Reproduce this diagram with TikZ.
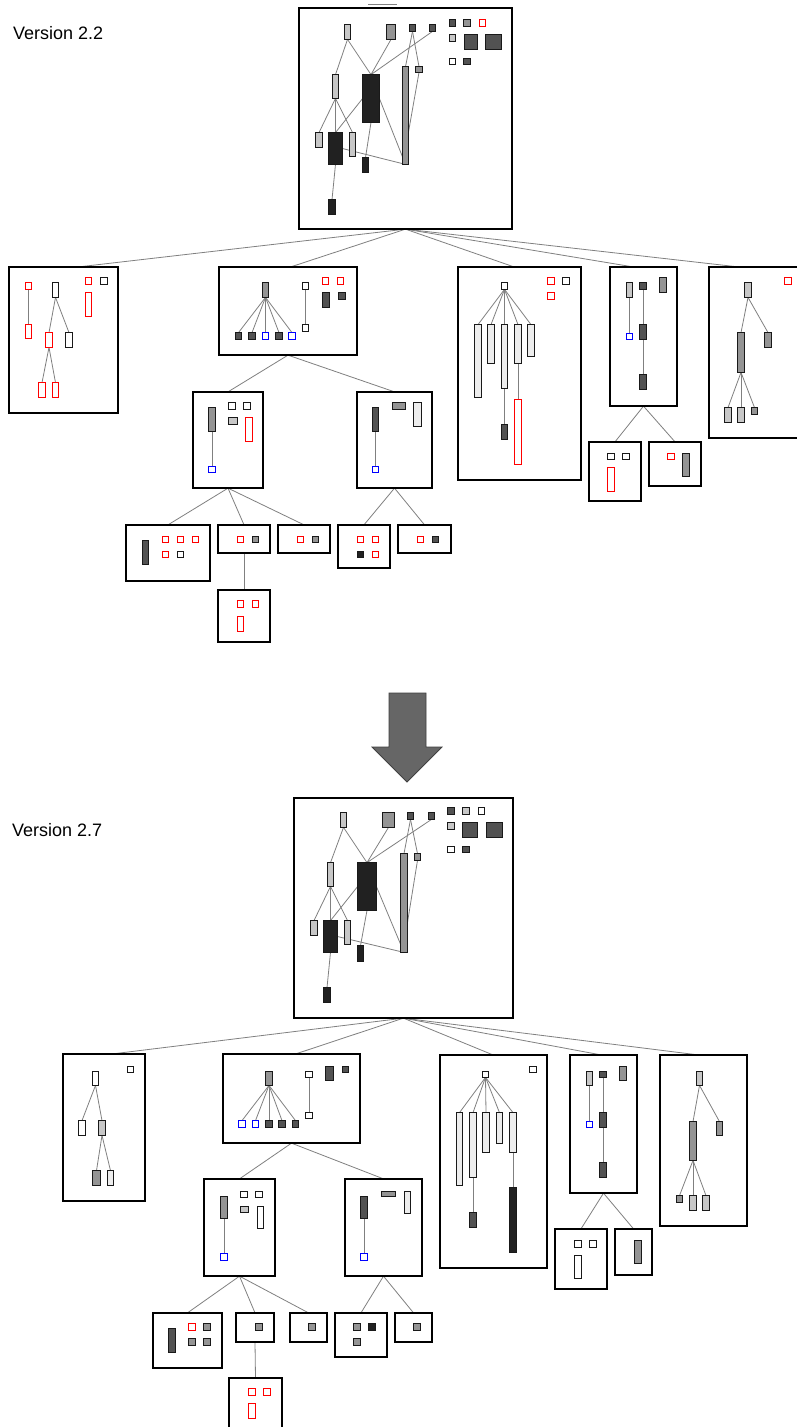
\documentclass[tikz,border=0pt]{standalone}
\usepackage{fontspec}
\setmainfont{Liberation Sans}
\pgfdeclarelayer{paper}
\pgfdeclarelayer{links}
\pgfsetlayers{paper,links,main}
\tikzset{
  panel/.style={draw=black, line width=1.7pt, inner sep=0pt, outer sep=0pt},
  cell/.style={draw=black!90, line width=1.2pt, inner sep=0pt, outer sep=0pt},
  cw/.style={cell, fill=white},
  cx/.style={cell, fill=black!7},
  cl/.style={cell, fill=black!22},
  cg/.style={cell, fill=black!42},
  cd/.style={cell, fill=black!68},
  ck/.style={cell, fill=black!87},
  cr/.style={cell, draw=red, fill=white},
  cb/.style={cell, draw=blue, fill=white},
  link/.style={draw=black!50, line width=0.8pt},
  label/.style={anchor=base west, inner sep=0pt, font=\fontsize{18}{20}\selectfont},
}
% \cellx{name}{style}{x1}{y1}{x2}{y2}: a small block given by its corners
\newcommand\cellx[6]{\node[#2, minimum width={(#5-#3-1.2)*1pt}, minimum height={(#6-#4-1.2)*1pt}] (#1) at ({(#3+#5)/2},{(#4+#6)/2}) {};}
% \panelx{name}{x1}{y1}{x2}{y2}: a package frame
\newcommand\panelx[5]{\node[panel, minimum width={(#4-#2-1.7)*1pt}, minimum height={(#5-#3-1.7)*1pt}] (#1) at ({(#2+#4)/2},{(#3+#5)/2}) {};}
\newcommand\lk[2]{\draw[link] (#1) -- (#2);}
\begin{document}
\begin{tikzpicture}[x=1pt, y=-1pt]
\begin{pgfonlayer}{paper}
\fill[white] (0,0) rectangle (796,1427);
\end{pgfonlayer}
\useasboundingbox (0,0) rectangle (796,1427);

\node[label] (v22) at (13,39.5) {Version 2.2};
\node[label] (v27) at (12,836) {Version 2.7};

% ---------------- version 2.2 ----------------
\panelx{pm}{298}{7}{513}{230}
\coordinate (stubL) at (368,4.5);
\coordinate (stubR) at (397,4.5);
\cellx{pA}{cl}{344}{24}{351}{40}
\cellx{pB}{cg}{386}{24}{396}{40}
\cellx{pC}{cd}{409}{24}{416}{32}
\cellx{pD}{cd}{429}{24}{436}{32}
\cellx{pT1}{cd}{449}{19}{456}{27}
\cellx{pT2}{cg}{463}{19}{471}{27}
\cellx{pT3}{cr}{479}{19}{486}{27}
\cellx{pT4}{cl}{449}{34}{456}{42}
\cellx{pT5}{cd}{464}{34}{478}{50}
\cellx{pT6}{cd}{485}{34}{502}{50}
\cellx{pT7}{cw}{449}{58}{456}{65}
\cellx{pT8}{cd}{463}{58}{471}{65}
\cellx{pE}{cg}{415}{66}{423}{73}
\cellx{pF}{cg}{402}{66}{409}{165}
\cellx{pG}{cl}{332}{74}{339}{99}
\cellx{pH}{ck}{362}{74}{380}{123}
\cellx{pI}{cl}{315}{132}{323}{148}
\cellx{pJ}{ck}{328}{132}{343}{165}
\cellx{pK}{cl}{349}{132}{356}{157}
\cellx{pL}{ck}{362}{157}{369}{173}
\cellx{pM}{ck}{328}{199}{336}{215}

\panelx{p1}{8}{266}{119}{414}
\cellx{p1a}{cr}{25}{282}{32}{290}
\cellx{p1b}{cr}{25}{324}{32}{339}
\cellx{p1c}{cw}{52}{282}{59}{298}
\cellx{p1d}{cr}{45}{332}{53}{348}
\cellx{p1e}{cw}{65}{332}{73}{348}
\cellx{p1f}{cr}{38}{382}{46}{398}
\cellx{p1g}{cr}{52}{382}{59}{398}
\cellx{p1h}{cr}{85}{277}{92}{285}
\cellx{p1i}{cw}{100}{277}{108}{285}
\cellx{p1j}{cr}{85}{292}{92}{317}

\panelx{p2}{218}{266}{358}{356}
\cellx{p2r}{cg}{262}{282}{269}{298}
\cellx{p2s1}{cd}{235}{332}{242}{340}
\cellx{p2s2}{cd}{248}{332}{256}{340}
\cellx{p2s3}{cb}{262}{332}{269}{340}
\cellx{p2s4}{cd}{275}{332}{283}{340}
\cellx{p2s5}{cb}{288}{332}{296}{340}
\cellx{p2q}{cw}{302}{282}{309}{290}
\cellx{p2t}{cw}{302}{324}{309}{332}
\cellx{p2u1}{cr}{322}{277}{329}{285}
\cellx{p2u2}{cr}{337}{277}{344}{285}
\cellx{p2v}{cd}{322}{292}{330}{308}
\cellx{p2w}{cd}{338}{292}{346}{300}

\panelx{p2a}{192}{391}{264}{489}
\cellx{p2ar}{cg}{208}{407}{216}{432}
\cellx{p2ab}{cb}{208}{466}{216}{473}
\cellx{p2ax}{cw}{228}{402}{236}{410}
\cellx{p2ay}{cw}{243}{402}{251}{410}
\cellx{p2az}{cl}{228}{417}{238}{425}
\cellx{p2aw}{cr}{245}{417}{253}{442}

\panelx{p2b}{356}{391}{433}{489}
\cellx{p2br}{cd}{372}{407}{379}{432}
\cellx{p2bb}{cb}{372}{466}{379}{473}
\cellx{p2bx}{cg}{392}{402}{406}{410}
\cellx{p2by}{cx}{413}{402}{422}{427}

\panelx{p2a1}{125}{524}{211}{582}
\cellx{p2a1r}{cd}{142}{540}{149}{565}
\cellx{p2a1s}{cr}{162}{536}{169}{543}
\cellx{p2a1t}{cr}{177}{536}{184}{543}
\cellx{p2a1u}{cr}{192}{536}{199}{543}
\cellx{p2a1v}{cr}{162}{551}{169}{558}
\cellx{p2a1w}{cw}{177}{551}{184}{558}

\panelx{p2a2}{217}{524}{271}{554}
\cellx{p2a2s}{cr}{237}{536}{244}{543}
\cellx{p2a2t}{cg}{252}{536}{259}{543}

\panelx{p2a2a}{217}{589}{271}{643}
\cellx{p2a2as}{cr}{237}{600}{244}{608}
\cellx{p2a2at}{cr}{252}{600}{259}{608}
\cellx{p2a2au}{cr}{237}{616}{244}{632}

\panelx{p2a3}{277}{524}{331}{554}
\cellx{p2a3s}{cr}{297}{536}{304}{543}
\cellx{p2a3t}{cg}{312}{536}{319}{543}

\panelx{p2b1}{337}{524}{391}{569}
\cellx{p2b1s}{cr}{357}{536}{364}{543}
\cellx{p2b1t}{cr}{372}{536}{379}{543}
\cellx{p2b1u}{ck}{357}{551}{364}{558}
\cellx{p2b1v}{cr}{372}{551}{379}{558}

\panelx{p2b2}{397}{524}{452}{554}
\cellx{p2b2s}{cr}{417}{536}{424}{543}
\cellx{p2b2t}{cd}{432}{536}{439}{543}

\panelx{p3}{457}{266}{582}{481}
\cellx{p3r}{cw}{501}{282}{508}{290}
\cellx{p3c1}{cx}{474}{324}{482}{398}
\cellx{p3c2}{cx}{487}{324}{495}{364}
\cellx{p3c3}{cx}{501}{324}{508}{389}
\cellx{p3c4}{cx}{514}{324}{522}{364}
\cellx{p3c5}{cx}{527}{324}{535}{357}
\cellx{p3d}{cd}{501}{424}{508}{440}
\cellx{p3e}{cr}{514}{399}{522}{465}
\cellx{p3f}{cr}{547}{277}{555}{285}
\cellx{p3g}{cw}{562}{277}{570}{285}
\cellx{p3h}{cr}{547}{292}{555}{300}

\panelx{p4}{609}{266}{678}{407}
\cellx{p4k}{cl}{626}{282}{633}{298}
\cellx{p4m}{cb}{626}{333}{633}{340}
\cellx{p4s}{cd}{639}{282}{647}{290}
\cellx{p4t}{cd}{639}{324}{647}{340}
\cellx{p4u}{cd}{639}{374}{647}{390}
\cellx{p4v}{cg}{659}{277}{667}{293}

\panelx{p4a}{588}{441}{642}{502}
\cellx{p4as}{cw}{607}{453}{615}{460}
\cellx{p4at}{cw}{622}{453}{630}{460}
\cellx{p4au}{cr}{607}{467}{615}{492}

\panelx{p4b}{648}{441}{702}{487}
\cellx{p4bs}{cr}{667}{453}{675}{460}
\cellx{p4bt}{cg}{682}{453}{690}{477}

\panelx{p5}{708}{266}{799}{439}
\cellx{p5r}{cr}{784}{277}{792}{285}
\cellx{p5a}{cl}{744}{282}{752}{298}
\cellx{p5b}{cg}{737}{332}{745}{373}
\cellx{p5c}{cg}{764}{332}{772}{348}
\cellx{p5d}{cl}{724}{407}{732}{423}
\cellx{p5e}{cl}{737}{407}{745}{423}
\cellx{p5f}{cg}{751}{407}{758}{415}

% ---------------- version 2.7 ----------------
\panelx{qm}{293}{797}{514}{1019}
\cellx{qA}{cl}{340}{812}{347}{828}
\cellx{qB}{cg}{382}{812}{395}{828}
\cellx{qC}{cd}{407}{812}{414}{820}
\cellx{qD}{cd}{428}{812}{435}{820}
\cellx{qT1}{cd}{447}{807}{455}{815}
\cellx{qT2}{cl}{462}{807}{470}{815}
\cellx{qT3}{cw}{478}{807}{485}{815}
\cellx{qT4}{cl}{447}{822}{455}{830}
\cellx{qT5}{cd}{462}{822}{478}{838}
\cellx{qT6}{cd}{486}{822}{503}{838}
\cellx{qT7}{cw}{447}{846}{455}{853}
\cellx{qT8}{cd}{462}{846}{470}{853}
\cellx{qE}{cg}{414}{853}{421}{861}
\cellx{qF}{cg}{400}{853}{408}{953}
\cellx{qG}{cl}{327}{862}{334}{887}
\cellx{qH}{ck}{357}{862}{377}{911}
\cellx{qI}{cl}{310}{920}{318}{936}
\cellx{qJ}{ck}{323}{920}{338}{953}
\cellx{qK}{cl}{344}{920}{351}{945}
\cellx{qL}{ck}{357}{945}{364}{962}
\cellx{qM}{ck}{323}{987}{331}{1003}

\panelx{q1}{62}{1053}{146}{1202}
\cellx{q1a}{cw}{92}{1071}{99}{1086}
\cellx{q1s}{cw}{127}{1066}{134}{1073}
\cellx{q1b}{cw}{78}{1120}{86}{1136}
\cellx{q1c}{cl}{98}{1120}{106}{1136}
\cellx{q1d}{cg}{92}{1170}{101}{1186}
\cellx{q1e}{cx}{107}{1170}{114}{1186}

\panelx{q2}{222}{1053}{361}{1144}
\cellx{q2r}{cg}{265}{1071}{273}{1086}
\cellx{q2s1}{cb}{238}{1120}{246}{1128}
\cellx{q2s2}{cb}{252}{1120}{259}{1128}
\cellx{q2s3}{cd}{265}{1120}{273}{1128}
\cellx{q2s4}{cd}{278}{1120}{286}{1128}
\cellx{q2s5}{cd}{292}{1120}{299}{1128}
\cellx{q2q}{cw}{305}{1071}{313}{1078}
\cellx{q2t}{cw}{305}{1112}{313}{1119}
\cellx{q2v}{cd}{325}{1066}{334}{1081}
\cellx{q2w}{cd}{342}{1066}{349}{1073}

\panelx{q2a}{203}{1178}{276}{1277}
\cellx{q2ar}{cg}{220}{1196}{228}{1219}
\cellx{q2ab}{cb}{220}{1253}{228}{1261}
\cellx{q2ax}{cw}{240}{1191}{248}{1198}
\cellx{q2ay}{cw}{255}{1191}{263}{1198}
\cellx{q2az}{cl}{240}{1206}{249}{1213}
\cellx{q2aw}{cw}{257}{1206}{264}{1229}

\panelx{q2b}{344}{1178}{423}{1277}
\cellx{q2br}{cd}{360}{1196}{368}{1219}
\cellx{q2bb}{cb}{360}{1253}{368}{1261}
\cellx{q2bx}{cg}{381}{1191}{396}{1197}
\cellx{q2by}{cx}{404}{1191}{411}{1214}

\panelx{q2a1}{152}{1312}{223}{1369}
\cellx{q2a1r}{cd}{168}{1328}{176}{1353}
\cellx{q2a1s}{cr}{188}{1323}{196}{1331}
\cellx{q2a1t}{cg}{203}{1323}{211}{1331}
\cellx{q2a1u}{cg}{188}{1338}{196}{1346}
\cellx{q2a1v}{cg}{203}{1338}{211}{1346}

\panelx{q2a2}{235}{1312}{275}{1343}
\cellx{q2a2s}{cg}{255}{1323}{263}{1331}

\panelx{q2a2a}{228}{1377}{283}{1430}
\cellx{q2a2as}{cr}{248}{1388}{256}{1396}
\cellx{q2a2at}{cr}{263}{1388}{271}{1396}
\cellx{q2a2au}{cr}{248}{1403}{256}{1419}

\panelx{q2a3}{289}{1312}{328}{1343}
\cellx{q2a3s}{cg}{308}{1323}{316}{1331}

\panelx{q2b1}{334}{1312}{388}{1358}
\cellx{q2b1s}{cg}{353}{1323}{361}{1331}
\cellx{q2b1t}{ck}{368}{1323}{376}{1331}
\cellx{q2b1u}{cg}{353}{1338}{361}{1346}

\panelx{q2b2}{394}{1312}{433}{1343}
\cellx{q2b2s}{cg}{413}{1323}{421}{1331}

\panelx{q3}{439}{1054}{548}{1269}
\cellx{q3r}{cw}{482}{1071}{489}{1078}
\cellx{q3s}{cw}{529}{1066}{537}{1073}
\cellx{q3c1}{cx}{456}{1112}{463}{1186}
\cellx{q3c2}{cx}{469}{1112}{477}{1178}
\cellx{q3c3}{cx}{482}{1112}{490}{1153}
\cellx{q3c4}{cx}{496}{1112}{503}{1144}
\cellx{q3c5}{cx}{509}{1112}{517}{1153}
\cellx{q3d}{cd}{469}{1212}{477}{1228}
\cellx{q3e}{ck}{509}{1187}{517}{1253}

\panelx{q4}{569}{1054}{638}{1194}
\cellx{q4k}{cl}{586}{1071}{593}{1086}
\cellx{q4m}{cb}{586}{1121}{593}{1128}
\cellx{q4s}{cd}{599}{1071}{607}{1078}
\cellx{q4t}{cd}{599}{1112}{607}{1128}
\cellx{q4u}{cd}{599}{1162}{607}{1178}
\cellx{q4v}{cg}{619}{1066}{627}{1081}

\panelx{q4a}{554}{1228}{608}{1290}
\cellx{q4as}{cw}{574}{1240}{582}{1248}
\cellx{q4at}{cw}{589}{1240}{597}{1248}
\cellx{q4au}{cw}{574}{1255}{582}{1279}

\panelx{q4b}{614}{1228}{653}{1276}
\cellx{q4bs}{cg}{634}{1240}{642}{1264}

\panelx{q5}{659}{1054}{748}{1227}
\cellx{q5a}{cl}{696}{1071}{703}{1086}
\cellx{q5b}{cg}{689}{1121}{697}{1161}
\cellx{q5c}{cg}{716}{1121}{723}{1136}
\cellx{q5f}{cg}{676}{1195}{683}{1203}
\cellx{q5d}{cl}{689}{1195}{697}{1211}
\cellx{q5e}{cl}{702}{1195}{710}{1211}

% arrow between the two versions
\draw[fill=black!60, draw=black!75, line width=0.8pt]
  (389,693) -- (426,693) -- (426,747) -- (442,747) -- (407,782)
  -- (372,747) -- (389,747) -- cycle;

% ---------------- dependency links ----------------
\begin{pgfonlayer}{links}
\lk{stubL}{stubR}
% 2.2 root package
\lk{pA.south}{pG.north} \lk{pA.south}{pH.north} \lk{pB.south}{pH.north}
\lk{pC.south}{pF.north} \lk{pC.south}{pE.north} \lk{pD.south}{pH.north}
\lk{pG.south}{pI.north} \lk{pG.south}{pJ.north} \lk{pG.south}{pK.north}
\lk{pH.west}{pJ.north} \lk{pH.south}{pL.north} \lk{pH.east}{pF.south}
\lk{pJ.east}{pF.south} \lk{pE.south}{[yshift=-17pt]pF.east} \lk{pJ.south}{pM.north}
% 2.2 sub-packages
\lk{pm.south}{[xshift=70pt]p1.north west}
\lk{pm.south}{[xshift=72pt]p2.north west}
\lk{pm.south}{[xshift=56pt]p3.north west}
\lk{pm.south}{[xshift=23pt]p4.north west}
\lk{pm.south}{[xshift=29pt]p5.north west}
\lk{p2.south}{p2a.north} \lk{p2.south}{p2b.north}
\lk{p2a.south}{p2a1.north} \lk{p2a.south}{p2a2.north} \lk{p2a.south}{p2a3.north}
\lk{p2a2.south}{p2a2a.north}
\lk{p2b.south}{p2b1.north} \lk{p2b.south}{p2b2.north}
\lk{p4.south}{p4a.north} \lk{p4.south}{p4b.north}
\lk{p1a.south}{p1b.north} \lk{p1c.south}{p1d.north} \lk{p1c.south}{p1e.north}
\lk{p1d.south}{p1f.north} \lk{p1d.south}{p1g.north}
\foreach \k in {1,...,5} {\lk{p2r.south}{p2s\k.north}}
\lk{p2q.south}{p2t.north}
\lk{p2ar.south}{p2ab.north} \lk{p2br.south}{p2bb.north}
\foreach \k in {1,...,5} {\lk{p3r.south}{p3c\k.north}}
\lk{p3c3.south}{p3d.north} \lk{p3c4.south}{p3e.north}
\lk{p4k.south}{p4m.north} \lk{p4s.south}{p4t.north} \lk{p4t.south}{p4u.north}
\lk{p5a.south}{p5b.north} \lk{p5a.south}{p5c.north}
\lk{p5b.south}{p5d.north} \lk{p5b.south}{p5e.north} \lk{p5b.south}{p5f.north}
% 2.7 root package
\lk{qA.south}{qG.north} \lk{qA.south}{qH.north} \lk{qB.south}{qH.north}
\lk{qC.south}{qF.north} \lk{qC.south}{qE.north} \lk{qD.south}{qH.north}
\lk{qG.south}{qI.north} \lk{qG.south}{qJ.north} \lk{qG.south}{qK.north}
\lk{qH.west}{qJ.north} \lk{qH.south}{qL.north} \lk{qH.east}{qF.south}
\lk{qJ.east}{qF.south} \lk{qE.south}{[yshift=-20pt]qF.east} \lk{qJ.south}{qM.north}
% 2.7 sub-packages
\lk{qm.south}{[xshift=50pt]q1.north west}
\lk{qm.south}{[xshift=73pt]q2.north west}
\lk{qm.south}{[xshift=53pt]q3.north west}
\lk{qm.south}{[xshift=31pt]q4.north west}
\lk{qm.south}{[xshift=38pt]q5.north west}
\lk{q2.south}{q2a.north} \lk{q2.south}{q2b.north}
\lk{q2a.south}{q2a1.north} \lk{q2a.south}{q2a2.north} \lk{q2a.south}{q2a3.north}
\lk{q2a2.south}{q2a2a.north}
\lk{q2b.south}{q2b1.north} \lk{q2b.south}{q2b2.north}
\lk{q4.south}{q4a.north} \lk{q4.south}{q4b.north}
\lk{q1a.south}{q1b.north} \lk{q1a.south}{q1c.north}
\lk{q1c.south}{q1d.north} \lk{q1c.south}{q1e.north}
\foreach \k in {1,...,5} {\lk{q2r.south}{q2s\k.north}}
\lk{q2q.south}{q2t.north}
\lk{q2ar.south}{q2ab.north} \lk{q2br.south}{q2bb.north}
\foreach \k in {1,...,5} {\lk{q3r.south}{q3c\k.north}}
\lk{q3c2.south}{q3d.north} \lk{q3c5.south}{q3e.north}
\lk{q4k.south}{q4m.north} \lk{q4s.south}{q4t.north} \lk{q4t.south}{q4u.north}
\lk{q5a.south}{q5b.north} \lk{q5a.south}{q5c.north}
\lk{q5b.south}{q5f.north} \lk{q5b.south}{q5d.north} \lk{q5b.south}{q5e.north}
\end{pgfonlayer}
\end{tikzpicture}
\end{document}
